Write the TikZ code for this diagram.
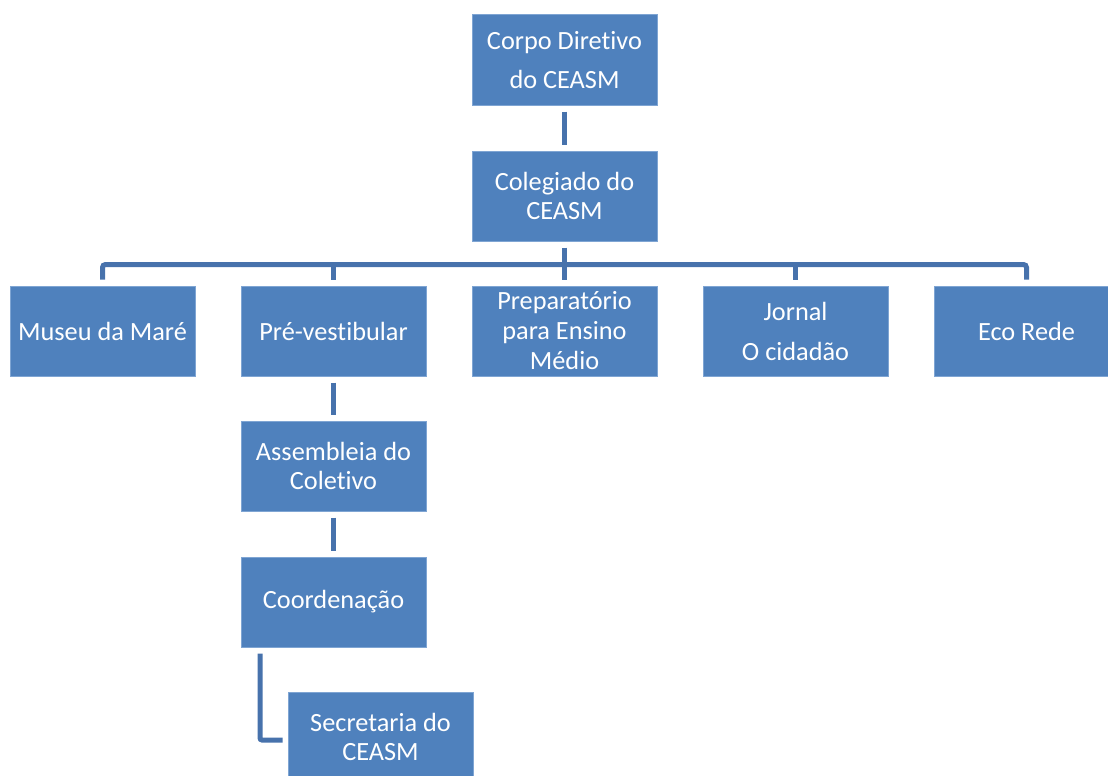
\documentclass[tikz,border=0pt]{standalone}
\usepackage{fontspec}
\setmainfont{Carlito}[Ligatures=NoCommon]
\usepackage{tikz}
\definecolor{boxblue}{HTML}{4F81BD}
\definecolor{boxedge}{HTML}{7FA5D3}
\definecolor{linkblue}{HTML}{4772AC}

\begin{document}
\begin{tikzpicture}[
                x=1pt,y=-1pt,
                unit/.style={fill=boxblue,draw=boxedge,line width=1pt,text=white,
                    minimum width=185pt,minimum height=90pt,inner sep=0pt,
                    align=center,font=\fontsize{26.3}{29}\selectfont},
                link/.style={draw=linkblue,line width=5pt,shorten <=6pt,shorten >=6pt}
            ]
                \useasboundingbox (0,0) rectangle (1108,776);
                \clip (0,0) rectangle (1108,776);
                \node[unit] (corpo) at (564.5,60) {Corpo Diretivo\\[10pt]do CEASM};
                \node[unit] (coleg) at (564.5,196) {Colegiado do\\CEASM};
                \node[unit] (museu) at (102.5,331) {Museu da Maré};
                \node[unit] (prevest) at (333.5,331) {Pré-vestibular};
                \node[unit] (prep) at (564.5,331) {Preparatório\\[1pt]para Ensino\\[1pt]Médio};
                \node[unit] (jornal) at (795.5,331) {Jornal\\[11pt]O cidadão};
                \node[unit] (eco) at (1026.5,331) {Eco Rede};
                \node[unit] (assemb) at (333.5,466) {Assembleia do\\Coletivo};
                \node[unit] (coord) at (333.5,602) {Coordenação};
                \node[unit] (secret) at (380.5,737) {Secretaria do\\CEASM};
                \coordinate (bus) at (564.5,264.5);
                \coordinate (elbow) at (260,740);
                \draw[link] (corpo) -- (coleg);
                \draw[link,shorten >=0pt] (coleg.south) -- (bus);
                \draw[link,rounded corners=3pt] (museu.north) -- (museu.north |- bus) -- (eco.north |- bus) -- (eco.north);
                \foreach \n in {prevest,prep,jornal}
                    \draw[link,shorten <=0pt] (\n.north |- bus) -- (\n.north);
                \draw[link] (prevest) -- (assemb);
                \draw[link] (assemb) -- (coord);
                \draw[link,rounded corners=2pt,shorten >=5pt] (elbow |- coord.south) -- (elbow) -- (secret.west |- elbow);
            \end{tikzpicture}
\end{document}
